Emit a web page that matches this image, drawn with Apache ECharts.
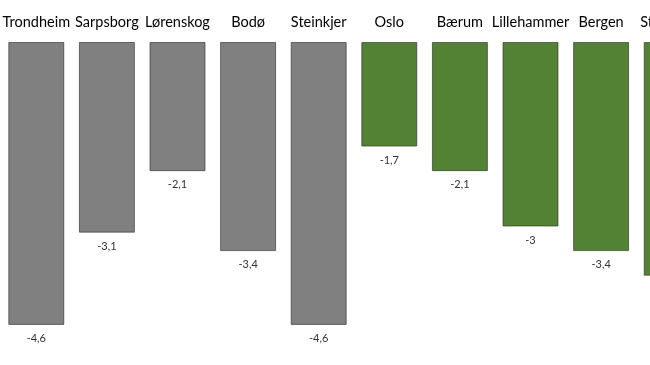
<!DOCTYPE html>
<html><head><meta charset="utf-8">
<script src="https://cdn.jsdelivr.net/npm/echarts@6/dist/echarts.min.js"></script>
<style>html,body{margin:0;padding:0;background:#fff}#c{width:650px;height:365px}</style>
</head><body><div id="c"></div>
<script>
const categories = ['Trondheim','Sarpsborg','Lørenskog','Bodø','Steinkjer','Oslo','Bærum','Lillehammer','Bergen','Stavanger'];
const values = [-4.6,-3.1,-2.1,-3.4,-4.6,-1.7,-2.1,-3,-3.4,-3.8];
const greyCount = 5;

const chart = echarts.init(document.getElementById('c'));
chart.setOption({
  animation:false,
  grid:{left:1,width:706,top:42,height:307.5,outerBoundsMode:'none',containLabel:false},
  xAxis:{type:'category',data:categories,position:'top',
    axisLine:{show:false},axisTick:{show:false},
    axisLabel:{interval:0,margin:12,color:'#000',fontFamily:'Lato',fontSize:14.5}},
  yAxis:{type:'value',min:-5,max:0,show:false,splitLine:{show:false}},
  series:[{type:'bar',data:values,barCategoryGap:'20.7%',
    itemStyle:{color:p=>p.dataIndex<greyCount?'#808080':'#548235',
      borderColor:'rgba(40,40,40,0.6)',borderWidth:1},
    label:{show:true,position:'bottom',distance:8,color:'#333',fontFamily:'Lato',fontSize:11,
      formatter:p=>String(p.value).replace('.',',')}}]
});
</script></body></html>
